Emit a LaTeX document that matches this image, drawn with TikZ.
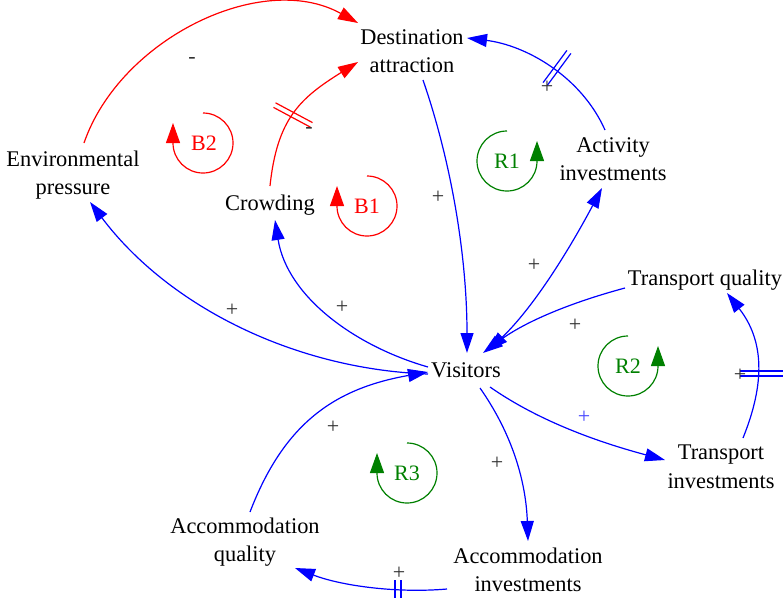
\documentclass[tikz,border=0pt]{standalone}
\usepackage{fontspec}
\setmainfont{Liberation Serif}
\usetikzlibrary{arrows.meta,calc}
\definecolor{cred}{RGB}{255,0,0}
\definecolor{cblue}{RGB}{0,0,255}
\definecolor{cgreen}{RGB}{0,128,0}
\definecolor{csign}{RGB}{50,50,50}
\definecolor{cbsign}{RGB}{70,70,255}
\begin{document}
\begin{tikzpicture}[x=1pt,y=1pt,
  var/.style={align=center, inner sep=0pt, font=\fontsize{22.4}{28.5}\selectfont},
  sgn/.style={text=csign, inner sep=0pt, text height=11pt, text depth=0pt, font=\fontsize{22}{26}\selectfont},
  looplbl/.style={inner sep=0pt, font=\fontsize{22}{26}\selectfont},
  lk/.style={line width=1.2pt, -{Triangle[length=20pt,width=13pt]}},
  lkboth/.style={line width=1.2pt, {Triangle[length=20pt,width=13pt]}-{Triangle[length=20pt,width=13pt]}},
  loopar/.style={line width=1.2pt, -{Triangle[length=20pt,width=14pt]}},
  delaymark/.style={line width=1.2pt}
]
\useasboundingbox (0,0) rectangle (783,-597);

% variables
\node[var] (dest)  at (412,-51)  {Destination\\attraction};
\node[var] (act)   at (613,-159) {Activity\\investments};
\node[var] (envp)  at (73,-175)  {Environmental\\pressure};
\node[var] (crowd) at (270,-205) {Crowding};
\node[var] (tq)    at (705,-280) {Transport quality};
\node[var] (vis)   at (466,-370) {Visitors};
\node[var] (ti)    at (721,-467) {Transport\\investments};
\node[var] (aq)    at (245,-542) {Accommodation\\quality};
\node[var] (ai)    at (528,-570) {Accommodation\\investments};

% red links
\draw[lk, cred] ($(envp)+(11,32)$) .. controls +(71:110) and +(151:110) .. ($(dest)+(-54,28)$);
\draw[lk, cred] ($(crowd)+(0,19)$) .. controls +(84:68) and +(212:68) .. ($(dest)+(-54,-11)$);

% blue links
\draw[lk, cblue] ($(act)+(-8,29)$) .. controls +(114:59) and +(-7:59) .. ($(dest)+(55,13)$);
\draw[lk, cblue] ($(dest)+(11,-29)$) .. controls +(-71:92) and +(90:92) .. ($(vis)+(1,17)$);
\draw[lkboth, cblue] ($(vis)+(22,19)$) .. controls +(44:66) and +(242:66) .. ($(act)+(-11,-29)$);
\draw[lk, cblue] ($(tq)+(-80,-8)$) .. controls +(195:50) and +(37:55) .. ($(vis)+(17,17)$);
\draw[lk, cblue] ($(vis)+(24,-17)$) .. controls +(-35:63) and +(165:63) .. ($(ti)+(-56,7)$);
\draw[lk, cblue] ($(ti)+(22,29)$) .. controls +(68:60) and +(-52:60) .. ($(tq)+(22,-13)$);
\draw[lk, cblue] ($(vis)+(14,-18)$) .. controls +(-55:58) and +(92:58) .. ($(ai)+(0,29)$);
\draw[lk, cblue] ($(ai)+(-81,-19)$) .. controls +(185:50) and +(-21:50) .. ($(aq)+(50,-26)$);
\draw[lk, cblue] ($(aq)+(5,30)$) .. controls +(69:95) and +(190:95) .. ($(vis)+(-38,-2)$);
\draw[lk, cblue] ($(vis)+(-38,-4)$) .. controls +(178:132) and +(-53:132) .. ($(envp)+(17,-27)$);
\draw[lk, cblue] ($(vis)+(-38,3)$) .. controls +(164:77) and +(-81:77) .. ($(crowd)+(5,-15)$);

% delay marks
\draw[delaymark, cred] (275.5,-102.8) -- (312.5,-122.6);
\draw[delaymark, cred] (273.5,-107.4) -- (310.5,-127.2);
\draw[delaymark, cblue] (547.1,-85.6) -- (570.9,-53.4);
\draw[delaymark, cblue] (543.1,-82.6) -- (566.9,-50.4);
\draw[delaymark, cblue] (740,-371) -- (790,-371);
\draw[delaymark, cblue] (740,-376) -- (790,-376);
\draw[delaymark, cblue] (395,-580) -- (395,-600);
\draw[delaymark, cblue] (401,-580) -- (401,-600);

% polarity signs
\node[sgn] (s1)  at (192,-58)  {-};
\node[sgn] (s2)  at (309,-128) {-};
\node[sgn] (s3)  at (547,-88)  {+};
\node[sgn] (s4)  at (438,-198) {+};
\node[sgn] (s5)  at (534,-266) {+};
\node[sgn] (s6)  at (575,-326) {+};
\node[sgn, text=cbsign] (s7)  at (584,-418) {+};
\node[sgn] (s8)  at (740,-376) {+};
\node[sgn] (s9)  at (497,-464) {+};
\node[sgn] (s10) at (399,-574) {+};
\node[sgn] (s11) at (333,-428) {+};
\node[sgn] (s12) at (232,-311) {+};
\node[sgn] (s13) at (342,-308) {+};

% loop symbols
\draw[loopar, cred] (203,-113) arc[start angle=90, end angle=-180, radius=30pt] -- ++(0,20);
\node[looplbl, text=cred] (b2) at (204,-143) {B2};
\draw[loopar, cred] (367,-176) arc[start angle=90, end angle=-180, radius=30pt] -- ++(0,20);
\node[looplbl, text=cred] (b1) at (367,-206) {B1};
\draw[loopar, cgreen] (507,-131) arc[start angle=90, end angle=360, radius=30pt] -- ++(0,20);
\node[looplbl, text=cgreen] (r1) at (507,-161) {R1};
\draw[loopar, cgreen] (628,-336) arc[start angle=90, end angle=360, radius=30pt] -- ++(0,20);
\node[looplbl, text=cgreen] (r2) at (628,-366) {R2};
\draw[loopar, cgreen] (407,-443) arc[start angle=90, end angle=-180, radius=30pt] -- ++(0,20);
\node[looplbl, text=cgreen] (r3) at (407,-473) {R3};
\end{tikzpicture}
\end{document}
